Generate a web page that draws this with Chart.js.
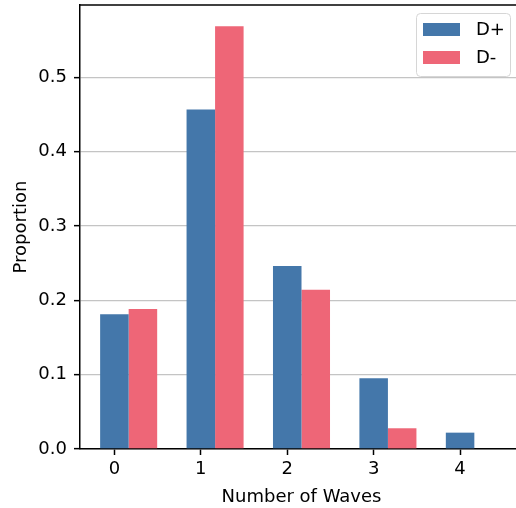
<!DOCTYPE html>
<html>
<head>
<meta charset="utf-8">
<script src="https://cdn.jsdelivr.net/npm/chart.js@4"></script>
<style>
  html, body { margin: 0; padding: 0; background: #fff; overflow: hidden; }
  #wrap { width: 530px; height: 508px; }
</style>
</head>
<body>
<div id="wrap"><canvas id="chart" width="530" height="508"></canvas></div>
<script>
'use strict'

// number of waves (categories)
const waves = [0, 1, 2, 3, 4];
// proportions per group
const dPlus = [0.1815, 0.4569, 0.2462, 0.0953, 0.0220];
const dMinus = [0.1883, 0.5691, 0.2143, 0.0279, 0];
// tick labels
const xTicks = [0, 1, 2, 3, 4];
const yTicks = [0.0, 0.1, 0.2, 0.3, 0.4, 0.5];

const barWidth = 0.33;
const FONT = 'DejaVu Sans';

Chart.defaults.font.family = FONT;
Chart.defaults.font.size = 18;
Chart.defaults.color = '#000';

// group centre is between the two bars
const groupX = waves.map((w) => w + barWidth / 2);

// top spine
const topSpine = {
    id: 'topSpine',
    afterDraw(chart) {
        const {ctx, chartArea} = chart;
        ctx.save();
        ctx.strokeStyle = '#000';
        ctx.lineWidth = 1.5;
        ctx.beginPath();
        ctx.moveTo(chartArea.left, chartArea.top);
        ctx.lineTo(chart.width, chartArea.top);
        ctx.stroke();
        ctx.restore();
    }
};

// matplotlib-like legend box
const boxLegend = {
    id: 'boxLegend',
    afterDraw(chart) {
        const ctx = chart.ctx;
        const x0 = 416, y0 = 13, w = 94, h = 63;
        ctx.save();
        ctx.fillStyle = 'rgba(255,255,255,0.85)';
        ctx.strokeStyle = '#d6d6d6';
        ctx.lineWidth = 1;
        ctx.beginPath();
        ctx.roundRect(x0 + 0.5, y0 + 0.5, w, h, 4);
        ctx.fill();
        ctx.stroke();
        ctx.font = '18px "' + FONT + '"';
        ctx.textBaseline = 'middle';
        chart.data.datasets.forEach((ds, i) => {
            const cy = y0 + 16.5 + i * 28;
            ctx.fillStyle = ds.backgroundColor;
            ctx.fillRect(x0 + 7, cy - 6.5, 37, 13);
            ctx.fillStyle = '#000';
            ctx.fillText(ds.label, x0 + 60, cy + 1);
        });
        ctx.restore();
    }
};

new Chart(document.getElementById('chart'), {
    type: 'bar',
    data: {
        datasets: [
            {
                label: 'D+',
                backgroundColor: '#4477AA',
                data: groupX.map((x, i) => ({x: x, y: dPlus[i]}))
            },
            {
                label: 'D-',
                backgroundColor: '#EE6677',
                data: groupX.map((x, i) => ({x: x, y: dMinus[i]}))
            }
        ]
    },
    options: {
        responsive: false,
        animation: false,
        categoryPercentage: barWidth * 2,
        barPercentage: 1,
        layout: { padding: { top: 5, right: 7, left: 0, bottom: 0 } },
        plugins: {
            legend: { display: false },
            tooltip: { enabled: false }
        },
        scales: {
            x: {
                type: 'linear',
                offset: false,
                min: -0.398,
                max: 4.728,
                afterBuildTicks: (scale) => { scale.ticks = xTicks.map((v) => ({value: v})); },
                afterFit: (scale) => {
                    scale.height = 59;
                    scale.paddingLeft = 0;
                    scale.paddingRight = 0;
                },
                ticks: { padding: 4, callback: (v) => String(v) },
                grid: { offset: false, drawOnChartArea: false, tickLength: 6, tickColor: '#000', tickWidth: 1.5 },
                border: { color: '#000', width: 1.5 },
                title: { display: true, text: 'Number of Waves', padding: { top: 3, bottom: 0 } }
            },
            y: {
                min: 0,
                max: Math.max(...dMinus, ...dPlus) * 1.05,
                z: 1,
                afterBuildTicks: (scale) => { scale.ticks = yTicks.map((v) => ({value: v})); },
                afterFit: (scale) => {
                    scale.width = 80;
                    scale.paddingTop = 0;
                    scale.paddingBottom = 0;
                },
                ticks: { padding: 7, callback: (v) => v.toFixed(1) },
                grid: { color: '#c4c4c4', lineWidth: 1.3, tickLength: 6, tickColor: '#000', tickWidth: 1.5 },
                border: { color: '#000', width: 1.5 },
                title: { display: true, text: 'Proportion', padding: { top: 11, bottom: 0 } }
            }
        }
    },
    plugins: [topSpine, boxLegend]
});
</script>
</body>
</html>
